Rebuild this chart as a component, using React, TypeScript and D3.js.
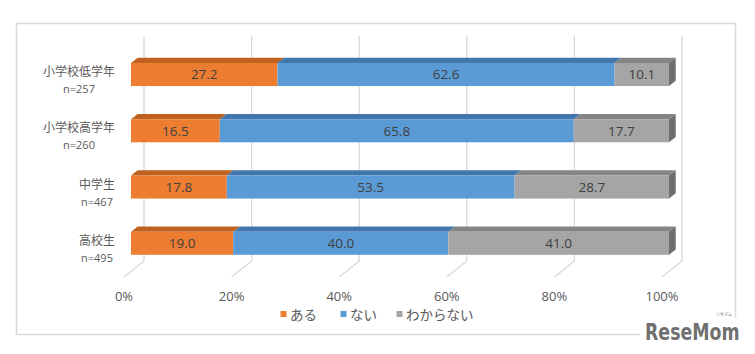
import React from "react";
import * as d3 from "d3";

const categories = ["小学校低学年", "小学校高学年", "中学生", "高校生"];
const sampleSizes = ["n=257", "n=260", "n=467", "n=495"];
const aru = [27.2, 16.5, 17.8, 19.0];
const nai = [62.6, 65.8, 53.5, 40.0];
const wakaranai = [10.1, 17.7, 28.7, 41.0];
const seriesKeys = ["aru", "nai", "wakaranai"];
const seriesNames = ["ある", "ない", "わからない"];
const tickValues = [0, 0.2, 0.4, 0.6, 0.8, 1];

const frontColors = ["#ED7D31", "#5B9BD5", "#A5A5A5"];
const topColors = ["#C0611F", "#4277AE", "#858585"];
const sideColor = "#6E6E6E";

const FONT = "'Noto Sans CJK JP', 'Open Sans', sans-serif";

export default function App() {
  const W = 755;
  const H = 354;
  const DX = 20;
  const DY = -16;
  const t0 = 0.35;
  const t1 = 0.685;

  const x = d3.scaleLinear().domain([0, 1]).range([124, 662]);
  const y = d3
    .scaleBand<string>()
    .domain(categories)
    .range([52, 277])
    .paddingInner(0.59)
    .paddingOuter(0.295);
  const h = y.bandwidth();

  const rows = categories.map((c, i) => ({
    cat: c,
    aru: aru[i],
    nai: nai[i],
    wakaranai: wakaranai[i],
  }));
  const stacked = d3
    .stack<any>()
    .keys(seriesKeys)
    .offset(d3.stackOffsetExpand)(rows);
  const rawVals = [aru, nai, wakaranai];

  const floorY = 277;
  const backTop = 36;

  return (
    <svg
      width={W}
      height={H}
      style={{ position: "absolute", left: 0, top: 0, background: "#fff" }}
      fontFamily={FONT}
    >
      <rect x={0} y={0} width={W} height={H} fill="#fff" />
      <rect x={16.5} y={23.5} width={719} height={311} fill="#fff" stroke="#D9D9D9" strokeWidth={1.5} />

      {/* back wall gridlines and floor lines */}
      {tickValues.map((v) => (
        <g key={v}>
          <line
            x1={x(v) + DX}
            x2={x(v) + DX}
            y1={backTop}
            y2={floorY + DY}
            stroke="#D9D9D9"
            strokeWidth={1.3}
          />
          <line
            x1={x(v) + DX}
            x2={x(v)}
            y1={floorY + DY}
            y2={floorY}
            stroke="#D9D9D9"
            strokeWidth={1.3}
          />
          <text
            x={x(v)}
            y={300.5}
            textAnchor="middle"
            fontSize={13}
            fill="#595959"
            fontFamily="'Open Sans', sans-serif"
          >
            {d3.format(".0%")(v)}
          </text>
        </g>
      ))}

      {/* bars */}
      {categories.map((c, ci) => {
        const y0 = y(c)!;
        const yf = y0 + DY * t0;
        const yb = y0 + DY * t1;
        return (
          <g key={c}>
            {stacked.map((s, si) => {
              const a = s[ci][0];
              const b = s[ci][1];
              const xa = x(a) + DX * t0;
              const xb = x(b) + DX * t0;
              const xab = x(a) + DX * t1;
              const xbb = x(b) + DX * t1;
              return (
                <g key={si}>
                  <polygon
                    points={`${xa},${yf} ${xab},${yb} ${xbb},${yb} ${xb},${yf}`}
                    fill={topColors[si]}
                  />
                  <rect x={xa} y={yf} width={xb - xa} height={h} fill={frontColors[si]} />
                  {si === stacked.length - 1 && (
                    <polygon
                      points={`${xb},${yf} ${xbb},${yb} ${xbb},${yb + h} ${xb},${yf + h}`}
                      fill={sideColor}
                    />
                  )}
                  <text
                    x={(xa + xb) / 2}
                    y={yf + h / 2 + 4.8}
                    textAnchor="middle"
                    fontSize={13.5}
                    fill="#404040"
                    fontFamily="'Open Sans', sans-serif"
                  >
                    {rawVals[si][ci].toFixed(1)}
                  </text>
                </g>
              );
            })}
          </g>
        );
      })}

      {/* category labels */}
      {categories.map((c, ci) => {
        const cy = y(c)! + h / 2;
        return (
          <g key={c} transform={`translate(${c.length > 3 ? 79 : 97},${cy})`}>
            <text x={0} y={-4} textAnchor="middle" fontSize={12} fill="#595959">
              {c}
            </text>
            <text
              x={0}
              y={13}
              textAnchor="middle"
              fontSize={11}
              fill="#595959"
              fontFamily="'Open Sans', sans-serif"
            >
              {sampleSizes[ci]}
            </text>
          </g>
        );
      })}

      {/* legend */}
      {seriesNames.map((n, i) => {
        const lx = [280.5, 340.5, 396.5][i];
        return (
          <g key={n}>
            <rect x={lx} y={311} width={6} height={6} fill={frontColors[i]} />
            <text x={lx + 9.5} y={320} fontSize={13.5} fill="#595959">
              {n}
            </text>
          </g>
        );
      })}

      {/* watermark */}
      <rect x={640} y={318} width={110} height={30} fill="#fff" />
      <g transform="translate(645,340) scale(0.755,1)">
        <text
          x={0}
          y={0}
          fontSize={23}
          fontWeight="bold"
          fill="#707070"
          fontFamily="'DejaVu Sans', sans-serif"
        >
          ReseMom
        </text>
      </g>
      <text x={724} y={316} fontSize={4} fill="#707070" textAnchor="middle">
        リセマム
      </text>
    </svg>
  );
}
